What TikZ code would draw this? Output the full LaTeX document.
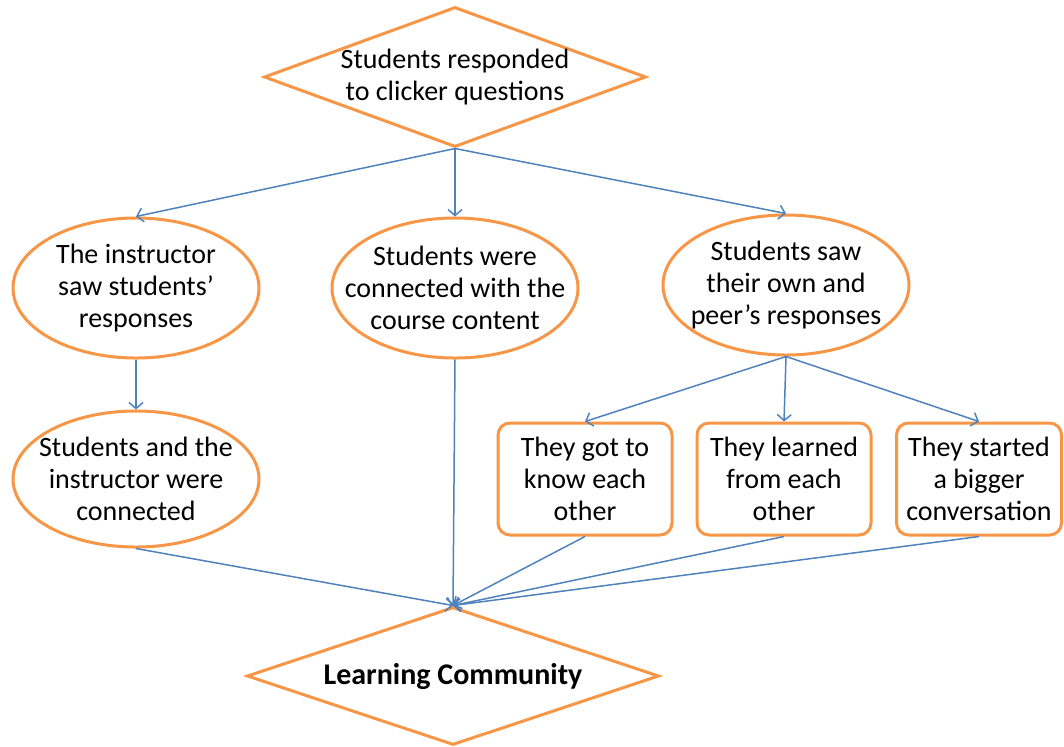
\documentclass[tikz,border=0pt]{standalone}
\usepackage{fontspec}
\setmainfont{Carlito}
\usetikzlibrary{arrows.meta,shapes.geometric}
\definecolor{shapeline}{RGB}{247,150,70}
\definecolor{linkline}{RGB}{79,129,189}

\begin{document}
\begin{tikzpicture}[
    x=0.5pt, y=-0.5pt,
    font=\fontsize{14pt}{16pt}\selectfont,
    decision/.style={diamond, draw=shapeline, line width=1.5pt, align=center, inner xsep=-3pt, inner ysep=0pt},
    bubble/.style={ellipse, draw=shapeline, line width=1.5pt, align=center,
      minimum width=123pt, minimum height=70pt, inner xsep=-12pt, inner ysep=0pt},
    card/.style={draw=shapeline, line width=1.5pt, rounded corners=6pt, align=center,
      minimum width=87pt, minimum height=56pt, inner sep=0pt},
    link/.style={-{Straight Barb[length=3pt, width=7pt]}, draw=linkline, line width=0.75pt}
  ]
    \useasboundingbox (0,0) rectangle (1064,746);
    \node[decision, aspect=2.74, minimum width=191pt, minimum height=70pt] (respond) at (455,77) {Students responded\\to clicker questions};
    \node[bubble] (instr) at (136,288) {The instructor\\saw students'\\responses};
    \node[bubble] (content) at (455,288) {Students were\\connected with the\\course content};
    \node[bubble] (peers) at (786,285) {Students saw\\their own and\\peer's responses};
    \node[bubble, minimum height=68pt] (connect) at (136,479) {Students and the\\instructor were\\connected};
    \node[card] (know) at (585,479) {They got to\\know each\\other};
    \node[card] (learn) at (784,479) {They learned\\from each\\other};
    \node[card, minimum width=82.5pt] (convo) at (979,479) {They started\\a bigger\\conversation};
    \node[decision, aspect=3, minimum width=206pt, minimum height=69pt, font=\fontsize{15pt}{18pt}\selectfont\bfseries] (community) at (453,676) {Learning Community};
    \draw[link] (respond.south) -- (instr.north);
    \draw[link] (respond.south) -- (content.north);
    \draw[link] (respond.south) -- (peers.north);
    \draw[link] (instr) -- (connect);
    \draw[link] (peers.south) -- (know.north);
    \draw[link] (peers.south) -- (learn.north);
    \draw[link] (peers.south) -- (convo.north);
    \draw[link] (connect.south) -- (community.north);
    \draw[link] (content.south) -- (community.north);
    \draw[link] (know.south) -- (community.north);
    \draw[link] (learn.south) -- (community.north);
    \draw[link] (convo.south) -- (community.north);
  \end{tikzpicture}
\end{document}
